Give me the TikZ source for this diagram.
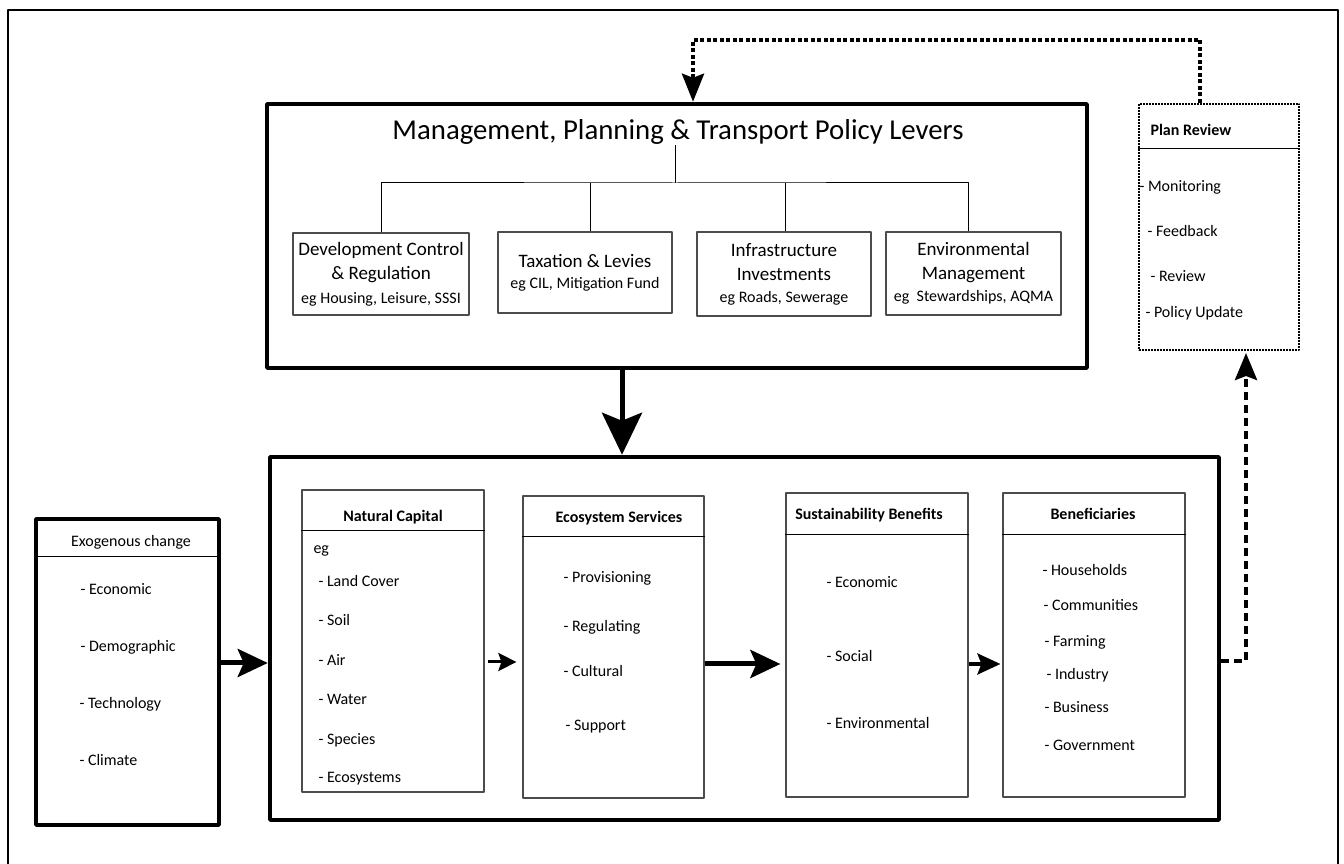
\documentclass[tikz,border=0pt]{standalone}
\usepackage{fontspec}
\setmainfont{Carlito}
\usetikzlibrary{arrows.meta}
\newcommand\egline[1]{{\fontsize{16bp}{20bp}\selectfont #1}}

\begin{document}
\begin{tikzpicture}[>=latex,line join=bevel,
  thickbox/.style={draw, line width=4.5bp, inner sep=0pt},
  levbox/.style={draw=black!70, line width=1.2bp, inner sep=0pt, align=center,
    font=\fontsize{19bp}{24bp}\selectfont},
  catbox/.style={draw=black!70, line width=1.2bp, inner sep=0pt, minimum width=182bp},
  hdr/.style={anchor=base, inner sep=0pt, font=\fontsize{16bp}{19bp}\selectfont\bfseries},
  item/.style={anchor=base west, inner sep=0pt, font=\fontsize{16bp}{19bp}\selectfont},
  fatarrow/.style={line width=5bp, -{Stealth[length=30bp,width=28bp,inset=6bp]}},
  thinarrow/.style={line width=3bp, -{Stealth[length=18bp,width=18bp,inset=3bp]}},
]
  \pgfsetlinewidth{1bp}
  \useasboundingbox (0bp,0bp) rectangle (1344bp,864bp);
%%
  % Frame
  \draw [line width=2.8bp] (8bp,0bp) -- (8bp,854bp) -- (1338bp,854bp) -- (1338bp,0bp);
  % Node: Policy Levers
\begin{scope}
  \node [thickbox, minimum width=820bp, minimum height=264bp] (levers) at (677bp,628bp) {};
  \node [anchor=base, inner sep=0pt, font=\fontsize{28.8bp}{32bp}\selectfont] (title) at (678bp,724bp)
    {Management, Planning \& Transport Policy Levers};
  \coordinate (fork) at (675bp,681bp);
  \node [levbox, minimum width=176bp, minimum height=82bp] (devctl) at (381bp,590bp)
    {Development Control\\ \& Regulation\\ \egline{eg Housing, Leisure, SSSI}};
  \node [levbox, minimum width=174bp, minimum height=81bp] (tax) at (585bp,591.5bp)
    {Taxation \& Levies\\[-3bp] \egline{eg CIL, Mitigation Fund}};
  \node [levbox, minimum width=174bp, minimum height=84bp] (infra) at (784bp,590bp)
    {Infrastructure\\ Investments\\[-2bp] \egline{eg Roads, Sewerage}};
  \node [levbox, minimum width=175bp, minimum height=83bp] (envmgt) at (973.5bp,590.5bp)
    {Environmental\\ Management\\[-2bp] \egline{eg~ Stewardships, AQMA}};
  \draw (fork |- title.south) -- (fork);
  \draw (devctl.north) |- (fork) -| ([xshift=-5.5bp]envmgt.north);
  \draw ([xshift=5bp]tax.north) -- ([xshift=5bp]tax.north |- fork);
  \draw ([xshift=1bp]infra.north) -- ([xshift=1bp]infra.north |- fork);
\end{scope}
  % Node: Plan Review
\begin{scope}
  \node [draw, densely dotted, line width=2bp, inner sep=0pt, minimum width=160bp, minimum height=246bp] (review) at (1219bp,637bp) {};
  \draw ([yshift=-46bp]review.north west) -- ([yshift=-46bp]review.north east);
  \node [hdr, anchor=base west] (revhdr) at (1150bp,728bp) {Plan Review};
  \node [item] (rev1) at (1139bp,672bp) {- Monitoring};
  \node [item] (rev2) at (1147bp,627bp) {- Feedback};
  \node [item] (rev3) at (1150bp,582bp) {- Review};
  \node [item] (rev4) at (1145bp,546bp) {- Policy Update};
\end{scope}
  % Node: Main
  \node [thickbox, minimum width=949bp, minimum height=363bp] (main) at (744.5bp,225.5bp) {};
  % Node: Exogenous change
\begin{scope}
  \node [thickbox, minimum width=183bp, minimum height=306bp] (exo) at (127.5bp,192bp) {};
  \draw ([yshift=-40bp]exo.north west) -- ([yshift=-40bp]exo.north east);
  \node [hdr, font=\fontsize{16bp}{19bp}\selectfont] (exohdr) at (131bp,317bp) {Exogenous change};
  \node [item] (exo1) at (80bp,269bp) {- Economic};
  \node [item] (exo2) at (80bp,212bp) {- Demographic};
  \node [item] (exo3) at (79bp,155bp) {- Technology};
  \node [item] (exo4) at (79bp,98bp) {- Climate};
\end{scope}
  % Node: Natural Capital
\begin{scope}
  \node [catbox, minimum height=302bp] (natcap) at (393bp,223bp) {};
  \draw ([yshift=-41bp]natcap.north west) -- ([yshift=-41bp]natcap.north east);
  \node [hdr] (nchdr) at (393bp,342bp) {Natural Capital};
  \node [item] (nc0) at (313bp,310bp) {eg};
  \node [item] (nc1) at (318bp,277bp) {- Land Cover};
  \node [item] (nc2) at (318bp,238bp) {- Soil};
  \node [item] (nc3) at (318bp,198bp) {- Air};
  \node [item] (nc4) at (318bp,159bp) {- Water};
  \node [item] (nc5) at (318bp,119bp) {- Species};
  \node [item] (nc6) at (318bp,81bp) {- Ecosystems};
\end{scope}
  % Node: Ecosystem Services
\begin{scope}
  \node [catbox, minimum width=181bp, minimum height=302bp] (ecosys) at (613.5bp,217bp) {};
  \draw ([yshift=-41bp]ecosys.north west) -- ([yshift=-41bp]ecosys.north east);
  \node [hdr] (eshdr) at (619bp,341bp) {Ecosystem Services};
  \node [item] (es1) at (563bp,281bp) {- Provisioning};
  \node [item] (es2) at (563bp,232bp) {- Regulating};
  \node [item] (es3) at (563bp,187bp) {- Cultural};
  \node [item] (es4) at (565bp,133bp) {- Support};
\end{scope}
  % Node: Sustainability Benefits
\begin{scope}
  \node [catbox, minimum height=304bp] (sustain) at (877bp,219bp) {};
  \draw ([yshift=-42bp]sustain.north west) -- ([yshift=-42bp]sustain.north east);
  \node [hdr] (sbhdr) at (869bp,344bp) {Sustainability Benefits};
  \node [item] (sb1) at (826bp,276bp) {- Economic};
  \node [item] (sb2) at (826bp,202bp) {- Social};
  \node [item] (sb3) at (826bp,135bp) {- Environmental};
\end{scope}
  % Node: Beneficiaries
\begin{scope}
  \node [catbox, minimum height=304bp] (benef) at (1094bp,219bp) {};
  \draw ([yshift=-42bp]benef.north west) -- ([yshift=-42bp]benef.north east);
  \node [hdr] (benhdr) at (1093bp,344bp) {Beneficiaries};
  \node [item] (ben1) at (1042bp,288bp) {- Households};
  \node [item] (ben2) at (1043bp,253bp) {- Communities};
  \node [item] (ben3) at (1044bp,217bp) {- Farming};
  \node [item] (ben4) at (1046bp,184bp) {- Industry};
  \node [item] (ben5) at (1044bp,151bp) {- Business};
  \node [item] (ben6) at (1044bp,113bp) {- Government};
\end{scope}
  % Edge: Policy Levers -> Main
  \draw [line width=5bp, -{Stealth[length=42bp,width=40bp,inset=8bp]}]
    ([xshift=-55bp]levers.south) -- ([xshift=-55bp]levers.south |- main.north);
  % Edge: Exogenous change -> Main
  \draw [fatarrow] ([yshift=9bp]exo.east) -- ([yshift=9bp]exo.east -| main.west);
  % Edge: Natural Capital -> Ecosystem Services
  \draw [thinarrow, shorten <=3bp, shorten >=6bp] ([yshift=-21bp]natcap.east) -- ([yshift=-21bp]natcap.east -| ecosys.west);
  % Edge: Ecosystem Services -> Sustainability Benefits
  \draw [fatarrow, shorten >=5bp] ([yshift=-17bp]ecosys.east) -- ([yshift=-17bp]ecosys.east -| sustain.west);
  % Edge: Sustainability Benefits -> Beneficiaries
  \draw [line width=3.5bp, -{Stealth[length=23bp,width=21bp,inset=4bp]}, shorten >=2bp]
    ([yshift=-19bp]sustain.east) -- ([yshift=-19bp]sustain.east -| benef.west);
  % Edge: Main -> Plan Review
  \draw [line width=4bp, dash pattern=on 8bp off 5bp, -{Stealth[length=27bp,width=22bp,inset=4bp]}, shorten >=2bp]
    ([yshift=-22.5bp]main.east) -| ([xshift=27bp]review.south);
  % Edge: Plan Review -> Policy Levers
  \coordinate (fbtop) at (946bp,824bp);
  \draw [line width=4bp, dash pattern=on 4bp off 2.5bp, -{Stealth[length=28bp,width=22bp,inset=4bp]}]
    ([xshift=-19bp]review.north) |- (fbtop) -| ([xshift=16bp]levers.north);
%
\end{tikzpicture}
\end{document}
